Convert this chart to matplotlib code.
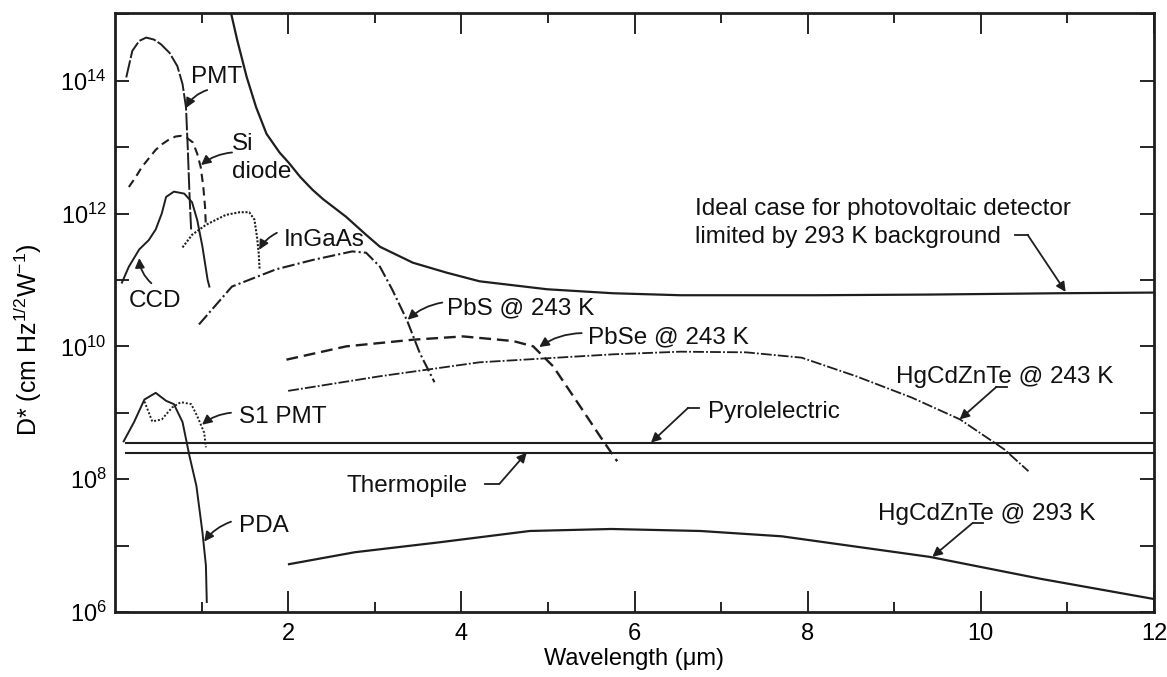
import numpy as np
import matplotlib
matplotlib.use("Agg")
import matplotlib.pyplot as plt
from matplotlib.ticker import FixedLocator, FuncFormatter, NullFormatter

plt.rcParams['font.family'] = ['Liberation Sans', 'DejaVu Sans']
plt.rcParams['mathtext.fontset'] = 'custom'
plt.rcParams['mathtext.rm'] = 'Liberation Sans'
plt.rcParams['mathtext.it'] = 'Liberation Sans:italic'

# ---- data: wavelength (um) and log10 D* ----
ideal_wl = [1.34, 1.41, 1.52, 1.63, 1.75, 1.9, 2.01, 2.14, 2.28, 2.4, 2.67, 2.9, 3.06, 3.44, 3.83, 4.21, 4.99, 5.75, 6.53, 7.3, 8.1, 9.4, 10.9, 12.0]
ideal_log = [15.02, 14.62, 14.06, 13.6, 13.2, 12.92, 12.76, 12.55, 12.36, 12.22, 11.95, 11.68, 11.5, 11.26, 11.11, 10.98, 10.86, 10.8, 10.77, 10.77, 10.77, 10.78, 10.8, 10.81]

pmt_wl = [0.13, 0.2, 0.28, 0.36, 0.45, 0.53, 0.63, 0.72, 0.78, 0.82, 0.84, 0.86, 0.88]
pmt_log = [14.05, 14.45, 14.6, 14.65, 14.62, 14.55, 14.42, 14.22, 13.95, 13.6, 13.0, 12.3, 11.73]

si_wl = [0.16, 0.24, 0.31, 0.39, 0.47, 0.55, 0.63, 0.7, 0.76, 0.83, 0.9, 0.95, 0.99, 1.02, 1.04, 1.05]
si_log = [12.4, 12.55, 12.7, 12.83, 12.96, 13.05, 13.12, 13.16, 13.17, 13.14, 13.07, 12.9, 12.7, 12.4, 12.1, 11.8]

ccd_wl = [0.08, 0.16, 0.28, 0.39, 0.47, 0.54, 0.59, 0.68, 0.8, 0.89, 0.95, 1.01, 1.07, 1.09]
ccd_log = [10.96, 11.2, 11.46, 11.6, 11.76, 12.0, 12.25, 12.33, 12.3, 12.17, 11.9, 11.5, 11.0, 10.9]

ingaas_wl = [0.78, 0.89, 1.05, 1.28, 1.44, 1.55, 1.61, 1.64, 1.66, 1.67]
ingaas_log = [11.49, 11.68, 11.83, 11.98, 12.02, 12.02, 11.91, 11.65, 11.4, 11.16]

pbs_wl = [0.97, 1.35, 1.86, 2.28, 2.74, 2.9, 3.06, 3.2, 3.37, 3.52, 3.69]
pbs_log = [10.33, 10.9, 11.16, 11.3, 11.43, 11.41, 11.2, 10.86, 10.4, 9.9, 9.46]

pbse_wl = [1.98, 2.67, 3.44, 4.02, 4.6, 4.83, 5.06, 5.37, 5.6, 5.8]
pbse_log = [9.8, 10.0, 10.1, 10.15, 10.08, 10.0, 9.7, 9.1, 8.65, 8.27]

hg243_wl = [2.0, 3.06, 4.21, 5.75, 6.53, 7.29, 7.93, 8.56, 9.2, 9.76, 10.27, 10.55]
hg243_log = [9.33, 9.55, 9.76, 9.88, 9.92, 9.91, 9.83, 9.55, 9.23, 8.9, 8.45, 8.12]

hg293_wl = [2.01, 2.77, 3.75, 4.79, 5.73, 6.76, 7.7, 9.41, 10.69, 11.98]
hg293_log = [6.72, 6.9, 7.05, 7.22, 7.25, 7.22, 7.14, 6.83, 6.5, 6.2]

pyro_wl = [0.13, 12.0]
pyro_log = [8.55, 8.55]

thermo_wl = [0.13, 12.0]
thermo_log = [8.40, 8.40]

s1_wl = [0.34, 0.43, 0.54, 0.66, 0.76, 0.88, 0.95, 1.03, 1.05]
s1_log = [9.17, 8.87, 8.9, 9.08, 9.16, 9.13, 8.95, 8.7, 8.48]

pda_wl = [0.1, 0.22, 0.34, 0.47, 0.59, 0.68, 0.78, 0.86, 0.94, 1.01, 1.05, 1.06]
pda_log = [8.57, 8.86, 9.2, 9.3, 9.18, 9.13, 8.86, 8.35, 7.9, 7.2, 6.7, 6.15]

xticks_major = [2, 4, 6, 8, 10, 12]
xticks_minor = [1, 3, 5, 7, 9, 11]
yticks_major_exp = [6, 8, 10, 12, 14]
yticks_minor_exp = [7, 9, 11, 13, 15]

# ---- figure ----
fig = plt.figure(figsize=(11.67, 6.77), dpi=100)
ax = fig.add_axes([115/1167, 1-612/677, (1154-115)/1167, (612-13)/677])
C = '#1e1e1e'

def p(wl, lg):
    return np.array(wl), 10.0 ** np.array(lg)

ax.plot(*p(ideal_wl, ideal_log), color=C, lw=1.6, ls='-')
ax.plot(*p(pmt_wl, pmt_log), color=C, lw=1.4, ls=(0, (9, 1.2)))
ax.plot(*p(si_wl, si_log), color=C, lw=1.5, ls=(0, (4, 2.5)))
ax.plot(*p(ccd_wl, ccd_log), color=C, lw=1.4, ls='-')
ax.plot(*p(ingaas_wl, ingaas_log), color=C, lw=1.5, ls=(0, (1, 0.8)))
ax.plot(*p(pbs_wl, pbs_log), color=C, lw=1.5, ls=(0, (6, 1.5, 1, 1.5)))
ax.plot(*p(pbse_wl, pbse_log), color=C, lw=1.7, ls=(0, (5, 2.5)))
ax.plot(*p(hg243_wl, hg243_log), color=C, lw=1.3, ls=(0, (6, 1.2, 1, 1.2)))
ax.plot(*p(hg293_wl, hg293_log), color=C, lw=1.6, ls='-')
ax.plot(*p(pyro_wl, pyro_log), color=C, lw=1.5, ls='-')
ax.plot(*p(thermo_wl, thermo_log), color=C, lw=1.5, ls='-')
ax.plot(*p(s1_wl, s1_log), color=C, lw=1.4, ls=(0, (1, 1)))
ax.plot(*p(pda_wl, pda_log), color=C, lw=1.4, ls='-')

ax.set_yscale('log')
ax.set_xlim(0, 12)
ax.set_ylim(1e6, 10 ** 15.02)

ax.xaxis.set_major_locator(FixedLocator(xticks_major))
ax.xaxis.set_minor_locator(FixedLocator(xticks_minor))
ax.yaxis.set_major_locator(FixedLocator([10.0 ** e for e in yticks_major_exp]))
ax.yaxis.set_minor_locator(FixedLocator([10.0 ** e for e in yticks_minor_exp]))
ax.yaxis.set_major_formatter(FuncFormatter(lambda v, pos: r'$\mathdefault{10^{%d}}$' % round(np.log10(v))))
ax.yaxis.set_minor_formatter(NullFormatter())

ax.tick_params(axis='x', which='major', direction='in', length=15, width=1.2, top=True, bottom=True, pad=8)
ax.tick_params(axis='x', which='minor', direction='in', length=7.5, width=1.2, top=True, bottom=True)
ax.tick_params(axis='y', which='both', direction='in', length=10, width=1.2, left=True, right=True, pad=6)
for lab in ax.get_xticklabels():
    lab.set_fontsize(17)
for lab in ax.get_yticklabels():
    lab.set_fontsize(17)
for s in ax.spines.values():
    s.set_linewidth(2.0)
    s.set_color(C)

ax.set_xlabel('Wavelength (μm)', fontsize=17, labelpad=2)
ax.set_ylabel(r'D* (cm Hz$^{1/2}$W$^{-1}$)', fontsize=18)
ax.yaxis.set_label_coords(-0.068, 0.455)

FS = 17.5
def lab(x, lg, s):
    ax.text(x, 10 ** lg, s, fontsize=FS, color='#111111', va='baseline', ha='left')

def arr(x0, l0, x1, l1, rad=0.0):
    ax.annotate('', xy=(x1, 10 ** l1), xytext=(x0, 10 ** l0),
                arrowprops=dict(arrowstyle='-|>', color=C, lw=1.3, shrinkA=0, shrinkB=0,
                                mutation_scale=14, connectionstyle='arc3,rad=%g' % rad))

def stub(x0, x1, lg):
    ax.plot([x0, x1], [10 ** lg, 10 ** lg], color=C, lw=1.3)

lab(0.878, 13.97, 'PMT')
arr(1.065, 13.86, 0.82, 13.59, 0.2)
lab(1.352, 12.96, 'Si')
lab(1.352, 12.54, 'diode')
arr(1.352, 12.92, 0.993, 12.73, 0.15)
lab(1.954, 11.515, 'InGaAs')
arr(1.87, 11.71, 1.665, 11.455, 0.15)
lab(0.16, 10.60, 'CCD')
arr(0.42, 10.95, 0.28, 11.33, -0.2)
lab(3.84, 10.48, 'PbS @ 243 K')
arr(3.78, 10.66, 3.38, 10.40, 0.15)
lab(5.46, 10.05, 'PbSe @ 243 K')
arr(5.39, 10.20, 4.90, 9.99, 0.15)
lab(6.70, 11.98, 'Ideal case for photovoltaic detector')
lab(6.70, 11.56, 'limited by 293 K background')
stub(10.39, 10.54, 11.68)
arr(10.54, 11.68, 10.98, 10.82, 0.0)
lab(9.025, 9.45, 'HgCdZnTe @ 243 K')
stub(10.18, 10.30, 9.39)
arr(10.18, 9.39, 9.755, 8.90, 0.0)
lab(6.85, 8.925, 'Pyrolelectric')
stub(6.62, 6.745, 9.075)
arr(6.62, 9.075, 6.19, 8.55, 0.0)
lab(1.433, 8.85, 'S1 PMT')
arr(1.34, 9.00, 1.005, 8.82, 0.15)
lab(1.433, 7.21, 'PDA')
arr(1.34, 7.36, 1.03, 7.06, 0.15)
lab(2.67, 7.80, 'Thermopile')
stub(4.27, 4.44, 7.93)
arr(4.44, 7.93, 4.755, 8.40, 0.0)
lab(8.81, 7.39, 'HgCdZnTe @ 293 K')
stub(9.905, 10.03, 7.34)
arr(9.905, 7.34, 9.44, 6.83, 0.0)

fig.savefig('out.png', dpi=100)
